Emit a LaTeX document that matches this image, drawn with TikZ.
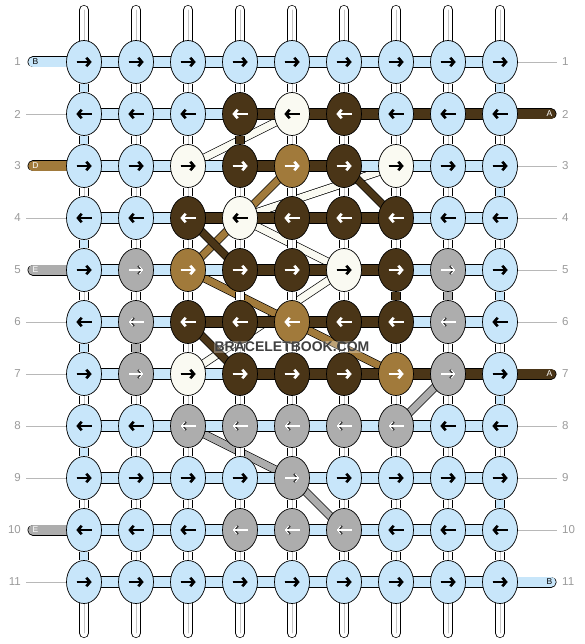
\documentclass[tikz,border=0pt]{standalone}
\usepackage{fontspec}
\setsansfont{Liberation Sans}
\usetikzlibrary{positioning, shapes.geometric, arrows.meta}

\definecolor{strandblue}{HTML}{C8E6FA}
\definecolor{strandbrown}{HTML}{4A3517}
\definecolor{strandtan}{HTML}{A17A3B}
\definecolor{strandcream}{HTML}{FAFAF2}
\definecolor{strandgray}{HTML}{ADADAD}
\definecolor{numgray}{HTML}{9A9A9A}
\definecolor{warpline}{HTML}{C4C4C4}

% one letter per strand colour: fill, arrow, arrow rim, middle line
\colorlet{kfillb}{strandblue}
\colorlet{kfillc}{strandcream}
\colorlet{kfilld}{strandbrown}
\colorlet{kfillt}{strandtan}
\colorlet{kfillg}{strandgray}
\colorlet{kfillw}{white}
\colorlet{karwb}{black}
\colorlet{karwc}{black}
\colorlet{karwd}{white}
\colorlet{karwt}{white}
\colorlet{karwg}{white}
\colorlet{krimb}{black}
\colorlet{krimc}{black}
\colorlet{krimd}{white}
\colorlet{krimt}{white}
\colorlet{krimg}{black!80}
\colorlet{kmidw}{warpline}
\colorlet{kmidb}{strandblue}
\colorlet{kmidd}{strandbrown}
\colorlet{kmidg}{strandgray}

\pgfdeclarelayer{bands}
\pgfdeclarelayer{segs}
\pgfsetlayers{bands,segs,main}

\begin{document}
\begin{tikzpicture}[x=1pt, y=-1pt,
    knot/.style = {ellipse, draw=black, line width=0.7pt, minimum width=35pt, minimum height=43pt, inner sep=0pt},
    glyph/.style = {line width=1.1pt, -{Straight Barb[length=3.6pt, width=8.5pt]}},
    rownum/.style = {text=numgray, font=\sffamily\fontsize{11.5}{12}\selectfont, inner sep=0pt},
    tagline/.style = {draw=numgray!70, line width=0.7pt},
    band/.style = {line width=7pt, preaction={draw=black, line width=8.4pt}},
    tail/.style = {line width=9.6pt, line cap=round, preaction={draw=black, line width=11pt, line cap=round}},
    warp/.style = {draw=warpline, line width=0.7pt, line cap=round, preaction={draw=black, line width=10pt, line cap=round}, preaction={draw=white, line width=8.6pt, line cap=round}},
    tag/.style = {font=\sffamily\fontsize{8.5}{9}\selectfont, inner sep=0pt},
    wmark/.style = {font=\sffamily\bfseries\fontsize{14}{14}\selectfont, inner sep=1pt},
  ]
  \useasboundingbox (0,0) rectangle (584,644);

  % knots, row by row
  \foreach \r/\codes in {1/{b,b,b,b,b,b,b,b,b}, 2/{b,b,b,d,c,d,b,b,b}, 3/{b,b,c,d,t,d,c,b,b},
      4/{b,b,d,c,d,d,d,b,b}, 5/{b,g,t,d,d,c,d,g,b}, 6/{b,g,d,d,t,d,d,g,b}, 7/{b,g,c,d,d,d,t,g,b},
      8/{b,b,g,g,g,g,g,b,b}, 9/{b,b,b,b,g,b,b,b,b}, 10/{b,b,b,g,g,g,b,b,b}, 11/{b,b,b,b,b,b,b,b,b}}{
    \foreach \f [count=\c] in \codes {
      \pgfmathsetmacro\kx{84+52*(\c-1)}
      \pgfmathsetmacro\ky{62+52*(\r-1)}
      \pgfmathsetmacro\xa{-7.5*(1-2*mod(\r+1,2))}
      \pgfmathsetmacro\xb{7.5*(1-2*mod(\r+1,2))}
      \node[knot, fill=kfill\f] (k\r-\c) at (\kx,\ky) {};
      \draw[glyph, draw=karw\f, preaction={draw=krim\f, line width=2.5pt}]
        ([xshift=\xa pt]k\r-\c.center) -- ([xshift=\xb pt]k\r-\c.center);
    }
  }

  \begin{pgfonlayer}{segs}
    % weft pieces
    \foreach \r/\codes in {1/{b,b,b,b,b,b,b,b}, 2/{b,b,b,d,d,d,d,d}, 3/{b,b,b,d,d,b,b,b},
        4/{b,b,d,d,d,d,b,b}, 5/{b,b,b,d,d,d,b,b}, 6/{b,b,d,d,d,d,b,b}, 7/{b,b,b,d,d,d,d,d},
        8/{b,b,b,b,b,b,b,b}, 9/{b,b,b,b,b,b,b,b}, 10/{b,b,b,b,b,b,b,b}, 11/{b,b,b,b,b,b,b,b}}{
      \foreach \f [count=\c] in \codes {
        \pgfmathtruncatemacro\n{\c+1}
        \draw[draw=kfill\f, line width=10.4pt, preaction={draw=black, line width=12pt}]
          (k\r-\c.center) -- (k\r-\n.center);
      }
    }
    % warp pieces
    \foreach \c/\codes in {1/{b,b,w,b,w,b,w,b,w,b}, 2/{w,w,w,w,w,g,w,w,w,w}, 3/{w,w,w,w,w,w,w,w,w,w},
        4/{w,d,w,w,w,w,w,w,w,w}, 5/{w,w,w,w,w,w,w,w,w,w}, 6/{w,w,w,w,w,w,w,w,w,w},
        7/{w,w,w,w,d,w,w,w,w,w}, 8/{w,w,w,w,g,w,w,w,w,w}, 9/{b,w,b,w,b,w,b,w,b,w}}{
      \foreach \f [count=\r] in \codes {
        \pgfmathtruncatemacro\n{\r+1}
        \draw[draw=kmid\f, line width=0.7pt, preaction={draw=black, line width=10pt},
          preaction={draw=kfill\f, line width=8.6pt}] (k\r-\c) -- (k\n-\c);
      }
    }
    % loose ends top and bottom
    \foreach \c in {1,...,9}{
      \coordinate (top\c) at (84+52*\c-52,10);
      \coordinate (bot\c) at (84+52*\c-52,633);
      \draw[warp] (top\c) -- (k1-\c);
      \draw[warp] (k11-\c) -- (bot\c);
    }
    % tails on the left
    \foreach \r/\col/\txt/\tc in {1/b/B/black, 3/t/D/white, 5/g/E/white, 10/g/E/white}{
      \pgfmathsetmacro\ky{62+52*(\r-1)}
      \coordinate (tl\r) at (33,\ky);
      \draw[tail, draw=kfill\col] (tl\r) -- (k\r-1.center);
      \node[tag, text=\tc] (tagl\r) at (35.5,\ky) {\txt};
    }
    \foreach \r in {2,4,6,7,8,9,11}{
      \pgfmathsetmacro\ky{62+52*(\r-1)}
      \coordinate (ll\r) at (26,\ky);
      \draw[tagline] (ll\r) -- (k\r-1);
    }
    % tails on the right
    \foreach \r/\col/\txt/\tc in {2/d/A/white, 7/d/A/white, 11/b/B/black}{
      \pgfmathsetmacro\ky{62+52*(\r-1)}
      \coordinate (tr\r) at (551,\ky);
      \draw[tail, draw=kfill\col] (k\r-9.center) -- (tr\r);
      \node[tag, text=\tc] (tagr\r) at (549.5,\ky) {\txt};
    }
    \foreach \r in {1,3,4,5,6,8,9,10}{
      \pgfmathsetmacro\ky{62+52*(\r-1)}
      \coordinate (rl\r) at (557,\ky);
      \draw[tagline] (k\r-9) -- (rl\r);
    }
  \end{pgfonlayer}

  % strands running across rows
  \begin{pgfonlayer}{bands}
    \foreach \a/\b/\col in {k2-5/k3-3/c, k3-7/k4-4/c, k4-4/k5-6/c, k5-6/k7-3/c,
        k3-5/k5-3/t, k5-3/k6-5/t, k6-5/k7-7/t,
        k3-6/k4-7/d, k4-3/k5-4/d, k6-3/k7-4/d,
        k7-8/k8-7/g, k8-3/k9-5/g, k9-5/k10-6/g}
      \draw[band, draw=kfill\col] (\a.center) -- (\b.center);
  \end{pgfonlayer}

  % row numbers
  \foreach \r in {1,...,11}{
    \pgfmathsetmacro\ky{62+52*(\r-1)}
    \node[rownum, anchor=east] (nl\r) at (21,\ky) {\r};
    \node[rownum, anchor=west] (nr\r) at (562,\ky) {\r};
  }

  % watermark
  \node[wmark, text=black!75, fill=white, fill opacity=0.3, text opacity=1] (wm) at (292,347) {BRACELETBOOK.COM};
\end{tikzpicture}
\end{document}
